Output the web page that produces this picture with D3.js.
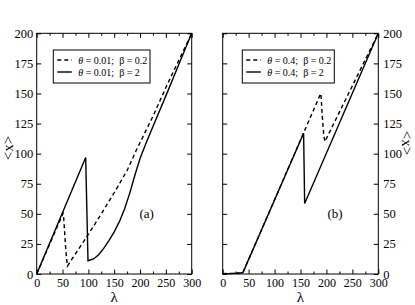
<!DOCTYPE html>
<html>
<head>
<meta charset="utf-8">
<script src="https://cdn.jsdelivr.net/npm/d3@7"></script>
<style>
	body {margin: 0; background: #fff;}
	svg {display: block;}
	svg text {font-family: "Liberation Serif", "Tinos", "Times New Roman", "DejaVu Serif", serif; fill: #000;}
</style>
</head>
<body>
<div id="vis"></div>
<script>
// tick values
const X_TICKS = [0, 50, 100, 150, 200, 250, 300];
const X_MINOR = [25, 75, 125, 175, 225, 275];
const Y_TICKS = [0, 25, 50, 75, 100, 125, 150, 175, 200];

// panel (a): theta = 0.01
const A_DASH_L = [0, 51, 52, 54, 56, 58, 59.5, 70, 80, 90, 100, 125, 150, 175, 194, 225, 250, 275, 300];
const A_DASH_X = [0, 50.4, 48, 35, 22, 12, 6.6, 13.5, 20, 26.5, 33, 50, 67.5, 86, 104, 131, 155, 177.5, 200];
const A_SOLID_L = [0, 94.8, 99.3, 110, 120, 130, 140, 150, 160, 170, 180, 190, 200, 210, 225, 250, 275, 300];
const A_SOLID_X = [0, 96.8, 11, 12.5, 16, 21.5, 28, 35, 43.5, 54, 67, 82, 96, 107, 122.5, 148, 174, 200];

// panel (b): theta = 0.4
const B_DASH_L = [0, 20, 35, 39, 189, 190, 191, 193, 195, 197, 225, 250, 275, 300];
const B_DASH_X = [0.3, 0.5, 0.9, 1.2, 150, 146, 138, 125, 115, 110, 134.5, 156.3, 178.2, 200];
const B_SOLID_L = [0, 20, 35, 39, 156, 158, 300];
const B_SOLID_X = [0.3, 0.5, 0.9, 1.2, 117, 58.6, 200];

const LEGEND_A = ["0.01", "0.2", "2"];
const LEGEND_B = ["0.4", "0.2", "2"];

// layout
const FRAME_WIDTH = 415;
const FRAME_HEIGHT = 305;
const TOP = 33.3;
const BOTTOM = 274;
const SERIF = "Liberation Serif, Tinos, Times New Roman, DejaVu Serif, serif";

const FRAME = d3.select("#vis")
	.append("svg")
		.attr("width", FRAME_WIDTH)
		.attr("height", FRAME_HEIGHT)
		.attr("font-family", SERIF);

const Y_SCALE = d3.scaleLinear().domain([0, 200]).range([BOTTOM, TOP]);

function zip(ls, xs) {
	return ls.map((l, i) => [l, xs[i]]);
}

function drawPanel(opt) {
	const X_SCALE = d3.scaleLinear().domain([0, 300]).range([opt.left, opt.right]);
	const g = FRAME.append("g");

	// bottom axis with labels
	g.append("g")
		.attr("transform", "translate(0," + BOTTOM + ")")
		.call(d3.axisBottom(X_SCALE).tickValues(X_TICKS).tickSizeInner(-4.5).tickSizeOuter(0).tickPadding(4.5))
		.attr("font-size", "12px")
		.call(a => a.select(".domain").remove());
	g.append("g")
		.attr("transform", "translate(0," + BOTTOM + ")")
		.call(d3.axisBottom(X_SCALE).tickValues(X_MINOR).tickSizeInner(-2.5).tickSizeOuter(0).tickFormat(""))
		.call(a => a.select(".domain").remove());

	// top axis, ticks only
	g.append("g")
		.attr("transform", "translate(0," + TOP + ")")
		.call(d3.axisTop(X_SCALE).tickValues(X_TICKS).tickSizeInner(-4.5).tickSizeOuter(0).tickFormat(""))
		.call(a => a.select(".domain").remove());
	g.append("g")
		.attr("transform", "translate(0," + TOP + ")")
		.call(d3.axisTop(X_SCALE).tickValues(X_MINOR).tickSizeInner(-2.5).tickSizeOuter(0).tickFormat(""))
		.call(a => a.select(".domain").remove());

	// y axes: labelled side and plain side
	const yLab = opt.labelsRight ? d3.axisRight(Y_SCALE) : d3.axisLeft(Y_SCALE);
	const yPlain = opt.labelsRight ? d3.axisLeft(Y_SCALE) : d3.axisRight(Y_SCALE);
	g.append("g")
		.attr("transform", "translate(" + (opt.labelsRight ? opt.right : opt.left) + ",0)")
		.call(yLab.tickValues(Y_TICKS).tickSizeInner(-4.5).tickSizeOuter(0).tickPadding(opt.labelsRight ? 5 : 3.5))
		.attr("font-size", "12.5px")
		.call(a => a.select(".domain").remove());
	g.append("g")
		.attr("transform", "translate(" + (opt.labelsRight ? opt.left : opt.right) + ",0)")
		.call(yPlain.tickValues(Y_TICKS).tickSizeInner(-4.5).tickSizeOuter(0).tickFormat(""))
		.call(a => a.select(".domain").remove());

	g.selectAll("g").attr("font-family", SERIF);

	// frame
	g.append("rect")
		.attr("x", opt.left)
		.attr("y", TOP)
		.attr("width", opt.right - opt.left)
		.attr("height", BOTTOM - TOP)
		.attr("fill", "none")
		.attr("stroke", "#000")
		.attr("stroke-width", 1);

	// curves
	const line = d3.line().x(d => X_SCALE(d[0])).y(d => Y_SCALE(d[1]));
	g.append("path")
		.datum(opt.solid)
		.attr("d", line)
		.attr("fill", "none")
		.attr("stroke", "#000")
		.attr("stroke-width", 1.4);
	g.append("path")
		.datum(opt.dash)
		.attr("d", line)
		.attr("fill", "none")
		.attr("stroke", "#000")
		.attr("stroke-width", 1.4)
		.attr("stroke-dasharray", "4,3");

	// legend
	const L = opt.legend;
	g.append("rect")
		.attr("x", L.x)
		.attr("y", 50)
		.attr("width", L.w)
		.attr("height", 33)
		.attr("fill", "#fff")
		.attr("stroke", "#000")
		.attr("stroke-width", 1);
	[{y: 60, dash: "4,3", beta: opt.labels[1]}, {y: 72, dash: null, beta: opt.labels[2]}].forEach((row) => {
		g.append("line")
			.attr("x1", L.x + 4).attr("x2", L.x + 18.5)
			.attr("y1", row.y).attr("y2", row.y)
			.attr("stroke", "#000")
			.attr("stroke-width", 1.4)
			.attr("stroke-dasharray", row.dash);
		const t = g.append("text")
			.attr("x", L.x + 25)
			.attr("y", row.y + 3.5)
			.attr("font-size", "10px")
			.style("white-space", "pre");
		t.append("tspan").attr("font-style", "italic").text("θ");
		t.append("tspan").text(" = " + opt.labels[0] + ";  β = " + row.beta);
	});

	// panel tag
	g.append("text")
		.attr("x", opt.tagX)
		.attr("y", 218)
		.attr("text-anchor", "middle")
		.attr("font-size", "13px")
		.text(opt.tag);

	// axis titles
	g.append("text")
		.attr("x", (opt.left + opt.right) / 2)
		.attr("y", 302)
		.attr("text-anchor", "middle")
		.attr("font-size", "15px")
		.text("λ");
	g.append("text")
		.attr("transform", opt.labelsRight
			? "translate(402,143) rotate(90)"
			: "translate(13,148) rotate(-90)")
		.attr("text-anchor", "middle")
		.attr("font-size", "15px")
		.text("<x>");
}

drawPanel({
	left: 36.7, right: 191.7, labelsRight: false,
	solid: zip(A_SOLID_L, A_SOLID_X), dash: zip(A_DASH_L, A_DASH_X),
	legend: {x: 53.3, w: 96.7}, labels: LEGEND_A,
	tag: "(a)", tagX: 146.7
});

drawPanel({
	left: 222.7, right: 378.3, labelsRight: true,
	solid: zip(B_SOLID_L, B_SOLID_X), dash: zip(B_DASH_L, B_DASH_X),
	legend: {x: 242.3, w: 92}, labels: LEGEND_B,
	tag: "(b)", tagX: 335
});
</script>
</body>
</html>
